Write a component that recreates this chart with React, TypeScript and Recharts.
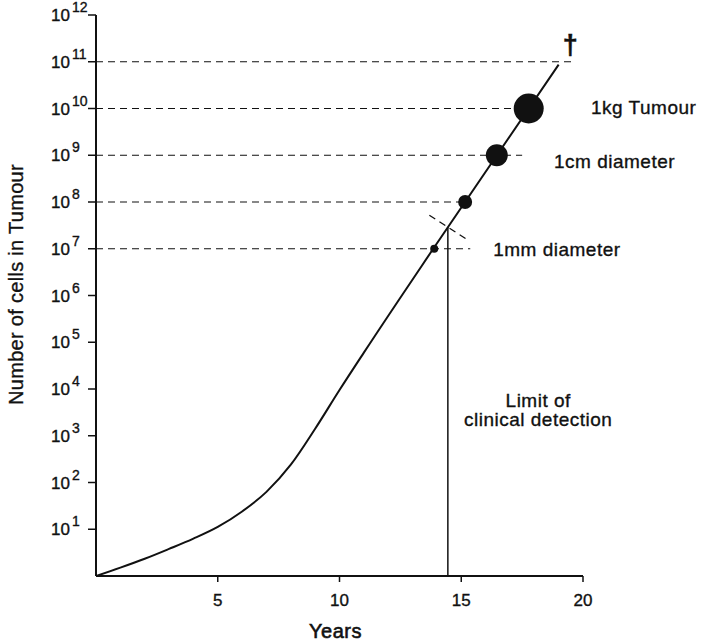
import React from 'react';
import {
  ComposedChart,
  Line,
  Scatter,
  XAxis,
  YAxis,
  ReferenceLine,
  ReferenceDot,
  Label,
} from 'recharts';

// ---- data (years, number of cells) ----
const growthYears = [0, 1, 2, 3, 4, 5, 6, 7, 8, 9, 10, 11, 13.85, 19.0];
const growthCells = [1, 1.51, 2.34, 3.8, 6.3, 11.2, 24, 63, 240, 1410, 9500, 6.0e4, 1e7, 8.7e10];

const markYears = [13.89, 15.16, 16.46, 17.77];
const markCells = [1e7, 1e8, 1e9, 1e10];

const guideLevels = [1e7, 1e8, 1e9, 1e10, 1e11];
const guideEndYears = [15.37, 15.16, 17.5, 17.77, 19.6];

const detectionYear = 14.45;
const detectionTop = 2.9e7;
const crossStart = { year: 13.69, cells: 5.2e7 };
const crossEnd = { year: 15.26, cells: 1.55e7 };

const xTicks = [5, 10, 15, 20];
const yTicks = [1e1, 1e2, 1e3, 1e4, 1e5, 1e6, 1e7, 1e8, 1e9, 1e10, 1e11, 1e12];

const noteTexts = ['1kg Tumour', '1cm diameter', '1mm diameter', 'Limit of', 'clinical detection'];
const noteYears = [20.33, 18.81, 16.31, 18.16, 18.16];
const noteCells = [1e10, 1e9, 1e7, 1e3, 1e3];

// ---- styles (kept separate from data) ----
const markRadii = [4, 7, 11, 15];
const noteOffsets = [5, 13, 7, -29, -10];
const noteAnchors = ['start', 'start', 'start', 'middle', 'middle'];

const curve = growthYears.map((year, i) => ({ year, cells: growthCells[i] }));
const marks = markYears.map((year, i) => ({ year, cells: markCells[i] }));

const FONT = '"Liberation Sans", Arial, Helvetica, sans-serif';
const INK = '#111';
const TEXT_STROKE = { stroke: INK, strokeWidth: 0.35 };

const YTick = (props: any) => {
  const { x, y, payload } = props;
  const exp = Math.round(Math.log10(payload.value));
  return (
    <text x={x - 35} y={y + 6} fontFamily={FONT} fontSize={17} fill={INK} textAnchor="start" {...TEXT_STROKE}>
      10
      <tspan dx={2} dy={-9} fontSize={14}>
        {exp}
      </tspan>
    </text>
  );
};

const XTick = (props: any) => {
  const { x, y, payload } = props;
  return (
    <text x={x} y={y + 22} fontFamily={FONT} fontSize={17} fill={INK} textAnchor="middle" {...TEXT_STROKE}>
      {payload.value}
    </text>
  );
};

const MarkShape = (props: any) => {
  const idx = markYears.indexOf(props.payload?.year);
  const r = markRadii[idx >= 0 ? idx : 0];
  return <circle cx={props.cx} cy={props.cy} r={r} fill={INK} />;
};

const YTitle = (props: any) => {
  const vb = props.viewBox || {};
  const cx = vb.x + 23;
  const cy = vb.y + vb.height / 2 - 11;
  return (
    <text
      x={cx}
      y={cy}
      transform={`rotate(-90, ${cx}, ${cy})`}
      textAnchor="middle"
      fontFamily={FONT}
      fontSize={20}
      fill={INK}
      letterSpacing={0.3}
      {...TEXT_STROKE}
    >
      Number of cells in Tumour
    </text>
  );
};

const XTitle = (props: any) => {
  const vb = props.viewBox || {};
  return (
    <text
      x={vb.x + vb.width / 2 - 4}
      y={vb.y + 62}
      textAnchor="middle"
      fontFamily={FONT}
      fontSize={20}
      fill={INK}
      letterSpacing={0.5}
      stroke={INK}
      strokeWidth={0.6}
    >
      Years
    </text>
  );
};

export default function App() {
  return (
    <div style={{ position: 'fixed', left: 0, top: 0, width: 701, height: 642, background: '#fff' }}>
      <ComposedChart
        width={701}
        height={642}
        margin={{ top: 15, right: 118, bottom: 26, left: 0 }}
        style={{ overflow: 'visible' }}
      >
        <XAxis
          dataKey="year"
          type="number"
          domain={[0, 20]}
          ticks={xTicks}
          allowDataOverflow
          height={40}
          tickSize={6}
          tick={<XTick />}
          axisLine={{ stroke: INK, strokeWidth: 2 }}
          tickLine={{ stroke: INK, strokeWidth: 1.5 }}
        >
          <Label content={<XTitle />} />
        </XAxis>
        <YAxis
          dataKey="cells"
          type="number"
          scale="log"
          domain={[1, 1e12]}
          ticks={yTicks}
          allowDataOverflow
          width={96}
          tickSize={8}
          tick={<YTick />}
          axisLine={{ stroke: INK, strokeWidth: 2 }}
          tickLine={{ stroke: INK, strokeWidth: 1.5 }}
        >
          <Label content={<YTitle />} />
        </YAxis>

        {guideLevels.map((lvl, i) => (
          <ReferenceLine
            key={`g${i}`}
            segment={[
              { x: 0, y: lvl },
              { x: guideEndYears[i], y: lvl },
            ]}
            stroke={INK}
            strokeWidth={1.2}
            strokeDasharray="7 5"
            ifOverflow="visible"
          />
        ))}

        <ReferenceLine
          segment={[
            { x: crossStart.year, y: crossStart.cells },
            { x: crossEnd.year, y: crossEnd.cells },
          ]}
          stroke={INK}
          strokeWidth={1.3}
          strokeDasharray="7 5"
          ifOverflow="visible"
        />
        <ReferenceLine
          segment={[
            { x: detectionYear, y: 1 },
            { x: detectionYear, y: detectionTop },
          ]}
          stroke={INK}
          strokeWidth={1.5}
          ifOverflow="visible"
        />

        <Line
          data={curve}
          dataKey="cells"
          type="monotone"
          stroke={INK}
          strokeWidth={2}
          dot={false}
          activeDot={false}
          isAnimationActive={false}
        />
        <Scatter
          data={marks}
          dataKey="cells"
          shape={<MarkShape />}
          isAnimationActive={false}
        />

        <ReferenceDot
          x={19.48}
          y={1e11}
          r={0}
          ifOverflow="visible"
          shape={(p: any) => (
            <text
              x={p.cx}
              y={p.cy - 8}
              textAnchor="middle"
              fontFamily={FONT}
              fontSize={27}
              fontWeight="bold"
              fill={INK}
              stroke={INK}
              strokeWidth={0.5}
            >
              †
            </text>
          )}
        />
        {noteTexts.map((t, i) => (
          <ReferenceDot
            key={`n${i}`}
            x={noteYears[i]}
            y={noteCells[i]}
            r={0}
            ifOverflow="visible"
            shape={(p: any) => (
              <text
                x={p.cx}
                y={p.cy + noteOffsets[i]}
                textAnchor={noteAnchors[i] as any}
                fontFamily={FONT}
                fontSize={19}
                fill={INK}
                letterSpacing={0.5}
                {...TEXT_STROKE}
              >
                {t}
              </text>
            )}
          />
        ))}
      </ComposedChart>
    </div>
  );
}
